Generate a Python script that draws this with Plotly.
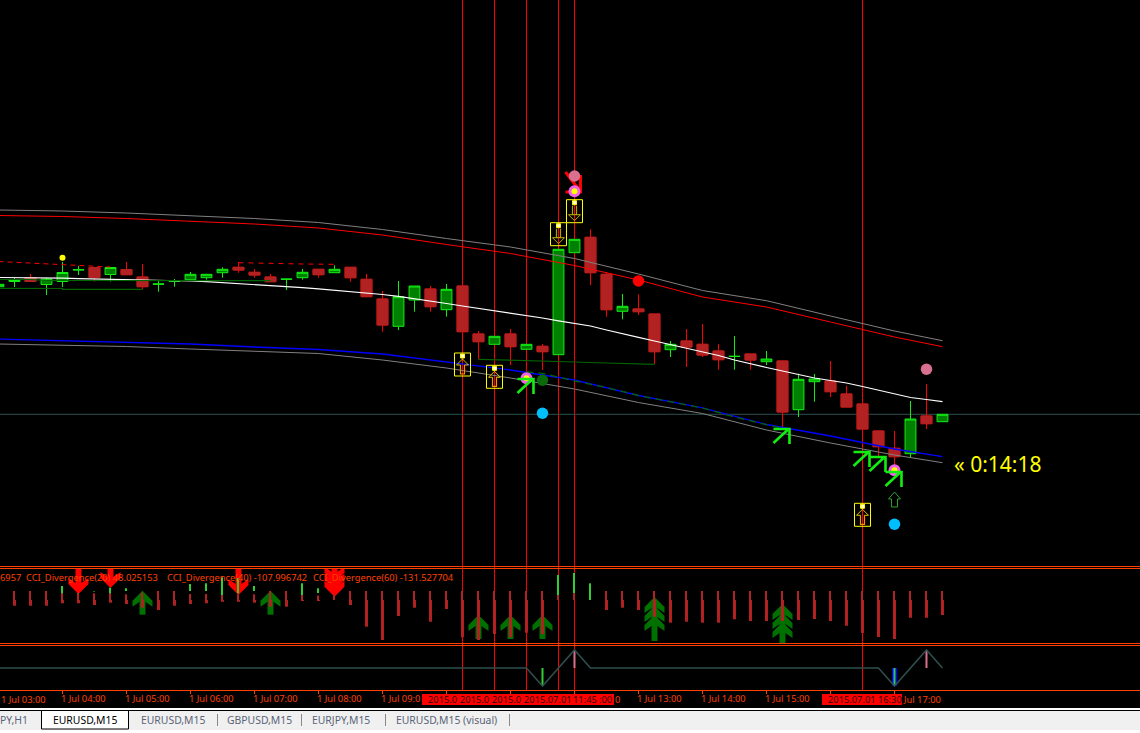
import numpy as np
import pandas as pd
import plotly.graph_objects as go

# ---------- data (price in points above an arbitrary base; bars are 15 minutes) ----------
DAY = "2015-07-01 "
bar_times = pd.date_range(DAY + "03:00", periods=60, freq="15min")

opens = [313.3,318.5,322.5,315.5,318.5,330,332.5,325.5,330.5,323,315.7,318.7,320.3,322.3,327.3,332.7,327.7,323,320.7,322.3,
         330.7,327.3,332.7,320.7,301,273.7,300,311,290.3,314,266,255.7,266,250.7,253.7,245.3,347.3,362.7,325.7,288.7,
         291,286,250.3,259,255.7,249,243.5,246,238.3,239,190.3,218.3,219,206,196,169,151.7,146.3,184,178.3]
highs = [315.7,322,326,322.5,338,334,332.5,332.5,338,336,319.3,321,328,325.7,332.7,338,331,326,321,331,
         330.7,334.7,332.7,326,309,319,314,314,316,314,269,263.7,271,255.7,256,350.7,360.7,370.7,328,306,
         305.7,286,259,271,276,256,264,246,249,239,226.3,226,239,214.3,196,169,169,199,216,185.7]
lows = [313.3,313,318.5,305,313,325,318.5,318.5,325.3,311,308.3,313.3,320.3,320.3,322.3,327.3,322.3,318.3,310,320.3,
        322.3,327.3,318.3,303.3,268.3,270,288.3,288.3,283.3,268.3,240.7,255.7,235,250.7,230,245.3,347.3,315,283.3,280.7,
        285,236,243,233,243,230.3,230.3,230.3,235,172,183,198.3,203,193,171,144,135,142.3,171,178.3]
closes = [315.7,320.5,318.5,321,327.5,330.3,322.5,332.5,325.3,313.3,316,319,325.7,325.7,330.7,330,325,318.3,320.9,327.7,
          325.3,330.7,322.3,303.3,275,303.3,314,293.3,310.7,268.3,258.3,263.7,253.3,255.7,248.3,350.7,360.7,327.3,290.3,293.7,
          288.3,248.3,255.7,253,245,240.3,243.7,240,241,188,220.7,221,208.3,193,171,153.3,143.3,181,176.3,185.7]

ma_mid = [322.5,322.5,322.3,322.1,321.8,321.4,321.1,320.8,320.6,320.4,320.1,319.7,319,318.3,317.4,316.5,315.5,314.5,313.5,312.4,
          311.2,309.9,308.6,307,305.5,303.6,301.4,299,296.5,294,291.7,289.2,287,284.7,282,279.2,276.5,274,270,266,
          262.7,259,255.5,252,248.7,244.5,240,236,232.5,229,225.5,222,219.5,217,213.5,210,206.5,202.5,200.5,198.3]

band_times = [DAY + s for s in ["03:00","04:00","05:00","06:00","07:00","08:00","09:00","10:00","11:00","12:00","13:00","14:00","15:00","16:00","17:00","17:45"]]
band_upper_gray = [390,389,387,384.5,381.5,377.5,370.5,361.5,353,341.5,326,309.5,299.3,284,269,259.3]
band_upper_red = [384.5,383.5,381.5,379,376,372,365,355.5,346.5,334.5,320,303,293,278,263,253.3]
band_lower_blue = [261,259.5,258,256,253,250.5,246,238,230,220,204.5,192.2,175.5,164,151,143.3]
band_lower_gray = [256,255,253.5,251,249,246.5,240,232,222,211,197.5,186.5,170,157,145,137.3]

res1_times = [DAY + s for s in ["03:00","03:30","04:00","04:30","04:45"]]
res1_vals = [338.5,337,335.5,333.5,333]
res2_times = [DAY + s for s in ["06:45","07:15","07:45","08:15"]]
res2_vals = [337.3,336.3,336,335.7]
sup_a_times = [DAY + s for s in ["03:00","03:30","03:45","07:15"]]
sup_a_vals = [320.5,320.5,319.5,319.3]
sup_b_times = [DAY + s for s in ["03:00","04:00","04:00","05:15"]]
sup_b_vals = [311.7,311.5,310.7,310.7]
sup_c_times = [DAY + s for s in ["10:30","11:15","11:45","12:30","13:00","13:15"]]
sup_c_vals = [240.7,239.7,238.5,237,235.7,235.7]
sup_d_times = [DAY + s for s in ["11:15","11:30","12:00","12:30","13:00","13:30","14:00","14:30","15:00","15:15"]]
sup_d_vals = [228,226.7,219,212.5,204.5,198,192,183,175.5,171.5]

vline_times = [DAY + s for s in ["10:15","10:45","11:15","11:45","12:00","16:30"]]

up_box_times = [DAY + s for s in ["10:15","10:45","16:30"]]
up_box_vals = [244,231.7,93.7]
dn_box_times = [DAY + s for s in ["11:45","12:00"]]
dn_box_vals = [374.3,397.3]

ne_times = [DAY + s for s in ["11:15","15:15","16:30","16:45","17:00"]]
ne_vals = [222,172,149,144,129]
se_time = DAY + "12:00"
se_val = 408
hollow_time = DAY + "17:00"
hollow_val = 108

yellow_dot_t = [DAY + "04:00"]; yellow_dot_v = [342.3]
pink_t = [DAY + "12:00", DAY + "17:30"]; pink_v = [424,230.7]
magenta_t = [DAY + "11:15", DAY + "12:00", DAY + "17:00"]; magenta_v = [221.7,408.7,129.7]
blue_t = [DAY + "11:30", DAY + "17:00"]; blue_v = [186.7,75.7]
dkgreen_t = [DAY + "11:30"]; dkgreen_v = [219.7]
red_t = [DAY + "13:00"]; red_v = [319]

hist_times = bar_times[1:]
fb_top = [9,9,9,6.7,6.7,6.7,6.7,5.7,7.3,9,9,6,6,5,5.7,5.7,9,9,5,4.3,6,9,9,
          9,9,9,9,9,9,9,9,9,9,9,5,6.7,0,
          9,9,9,9,9,9,9,9,9,9,9,9,9,9,9,9,9,9,9,9,9,9]
fb_bot = [-5.7,-5.7,-5.7,-3.3,-3.3,-5,-2.7,-4,-7.7,-10,-5.7,-4,-3.3,-1.7,-1.7,-2.7,-6.7,-6.7,-1,-1,0,-5,-26.7,
          -40,-16,-7.7,-21.7,-9,-37.3,-40,-34,-37.3,-32.7,-34,0,0,0,
          -10,-7.7,-10,-16.7,-22.7,-21.7,-22.7,-22.7,-19.3,-21,-21,-21,-20,-19,-21,-25.7,-33,-37,-39,-17.7,-17.7,-15]
gr_top = [0,0,0,14,7,9,12.3,11.7,0,0,0,16,16.7,22.7,22,14,0,0,16.7,11.7,4,0,0,
          0,0,0,0,0,0,0,0,0,0,0,25,27,16.7,
          0,0,0,0,0,0,0,0,0,0,0,0,0,0,0,0,0,0,0,0,0,0]
gr_bot = [0,0,0,5.7,6,8.5,5.7,9,0,0,0,9,9,5,6.7,9,0,0,5,7,0,0,0,
          0,0,0,0,0,0,0,0,0,0,0,5,6.7,0,
          0,0,0,0,0,0,0,0,0,0,0,0,0,0,0,0,0,0,0,0,0,0]

dn_arrow_times = [DAY + s for s in ["04:15","04:45","06:45","08:15"]]
dn_arrow_vals = [6,12,5,3.3]
dn_arrow_n = [1,1,1,3]
up_arrow_times = [DAY + s for s in ["05:15","07:15","10:30","11:00","11:30","13:15","15:15"]]
up_arrow_vals = [9.3,9.3,-15,-15,-15,3,-4]
up_arrow_n = [1,1,1,1,1,3,3]

sig_times = [DAY + s for s in ["03:00","11:15","11:30","11:45","12:00","12:15","16:45","17:00","17:15","17:30","17:45"]]
sig_vals = [0,0,-1,0,1,0,0,-1,0,1,0]
sig_lime_t = [DAY + "11:30", DAY + "17:00"]; sig_lime_v = [-1,-1]
sig_pink_t = [DAY + "12:00", DAY + "17:30"]; sig_pink_v = [1,1]
sig_blue_t = [DAY + "17:00"]; sig_blue_v = [-1]

tick_hours = ["04:00","05:00","06:00","07:00","08:00","09:00","10:00","11:00","12:00","13:00","14:00","15:00","16:00","17:00"]
# what each hour label shows once the red vertical-line tags have covered it
tick_shown = ["1 Jul 04:00","1 Jul 05:00","1 Jul 06:00","1 Jul 07:00","1 Jul 08:00","1 Jul 09:0","","","",
              "1 Jul 13:00","1 Jul 14:00","1 Jul 15:00","",""]

tab_labels = ["PY,H1","EURUSD,M15","EURUSD,M15","GBPUSD,M15","EURJPY,M15","EURUSD,M15 (visual)"]

# ---------- helpers ----------
W, H = 1140, 733
def px(x): return x / W
def py(y): return 1 - y / H
MS = 56250  # milliseconds per screen pixel (16 px = 15 min)

ORANGE = "#ff4000"
LIME = "#12ee12"
FB = "#b22222"
FONT = "Noto Sans"

o, h, l, c = map(np.array, (opens, highs, lows, closes))
bull = c >= o
bear = ~bull
t = np.array(bar_times.strftime("%Y-%m-%d %H:%M"))

fig = go.Figure()
# candles
fig.add_trace(go.Candlestick(x=t[bear], open=o[bear], high=h[bear], low=l[bear], close=c[bear],
    increasing=dict(line=dict(color="#ff0000", width=1), fillcolor=FB),
    decreasing=dict(line=dict(color="#ff0000", width=1), fillcolor=FB), whiskerwidth=0))
fig.add_trace(go.Candlestick(x=t[bear], open=o[bear], high=o[bear], low=c[bear], close=c[bear],
    increasing=dict(line=dict(color=FB, width=1), fillcolor=FB),
    decreasing=dict(line=dict(color=FB, width=1), fillcolor=FB), whiskerwidth=0))
fig.add_trace(go.Candlestick(x=t[bull], open=o[bull], high=h[bull], low=l[bull], close=c[bull],
    increasing=dict(line=dict(color=LIME, width=1), fillcolor="#008000"),
    decreasing=dict(line=dict(color=LIME, width=1), fillcolor="#008000"), whiskerwidth=0))

def line(x, y, color, width=1, dash=None, yaxis="y"):
    fig.add_trace(go.Scatter(x=x, y=y, mode="lines", yaxis=yaxis,
                             line=dict(color=color, width=width, dash=dash)))

line(band_times, band_upper_gray, "#808080")
line(band_times, band_upper_red, "#ff0000")
line(band_times, band_lower_gray, "#808080")
line(band_times, band_lower_blue, "#0000ff", 1.3)
line(t, ma_mid, "#ffffff", 1.2)
line(sup_a_times, sup_a_vals, "#006400", 1.2)
line(sup_b_times, sup_b_vals, "#006400", 1.2)
line(sup_c_times, sup_c_vals, "#006400", 1.2)
line(sup_d_times, sup_d_vals, "#006400", 1.3, dash="7px,5px")
line(res1_times, res1_vals, "#ff0000", 1, dash="5px,4px")
line(res2_times, res2_vals, "#ff0000", 1, dash="5px,5px")

def dots(x, y, color, size, symbol="circle", border=None):
    fig.add_trace(go.Scatter(x=x, y=y, mode="markers",
        marker=dict(color=color, size=size, symbol=symbol,
                    line=dict(color=border or color, width=1 if border else 0))))

dots(yellow_dot_t, yellow_dot_v, "#ffff00", 6)
dots(pink_t, pink_v, "#d9708f", 11.5)
dots(magenta_t, magenta_v, "#f060e8", 12)
dots(magenta_t, magenta_v, "#ffff00", 6)
dots(blue_t, blue_v, "#00bfff", 11.5)
dots(dkgreen_t, dkgreen_v, "#0b6b0b", 11.5)
dots(red_t, red_v, "#ff0000", 11.5)
dots(up_box_times + dn_box_times, up_box_vals + dn_box_vals, "#ffffd0", 4, "square", "#ffff00")

# indicator histogram
def hbar(x, top, bottom, color, w_px, off_px):
    top, bottom = np.array(top, float), np.array(bottom, float)
    fig.add_trace(go.Bar(x=x, y=top - bottom, base=bottom, yaxis="y2", width=w_px * MS, offset=off_px * MS,
                         marker=dict(color=color, line=dict(width=0))))

hbar(hist_times, gr_top, gr_bot, "#32cd32", 2, -1.5)
hbar(hist_times, fb_top, fb_bot, FB, 2, -1.5)
hbar(hist_times, np.zeros(len(fb_bot)), fb_bot, FB, 1, 0.5)

# signal panel
line(sig_times, sig_vals, "#2f4f4f", 1.5, yaxis="y3")
def sbar(x, y, color, w_px):
    fig.add_trace(go.Bar(x=x, y=y, yaxis="y3", width=w_px * MS, offset=-w_px * MS / 2,
                         marker=dict(color=color, line=dict(width=0))))
sbar(sig_blue_t, sig_blue_v, "#0000ff", 5)
sbar(sig_lime_t, sig_lime_v, "#32cd32", 2)
sbar(sig_pink_t, sig_pink_v, "#d9708f", 2)

# ---------- shapes ----------
shapes = []
def pix(time, val, path, color, width=1, fill="rgba(0,0,0,0)", yref="y", layer="above"):
    shapes.append(dict(type="path", xref="x", yref=yref, xsizemode="pixel", ysizemode="pixel",
                       xanchor=time, yanchor=val, path=path, layer=layer,
                       line=dict(color=color, width=width), fillcolor=fill))

def tree(tm, v, sign, n, step, stem, color, yref):
    """Stacked chevrons (tip at the anchor) plus a stem; each is its own polygon."""
    for k in range(n):
        s = -k * step
        pix(tm, v, (f"M0,{sign*s} L10,{sign*(s-10)} L10,{sign*(s-16)} L0,{sign*(s-9)} "
                    f"L-10,{sign*(s-16)} L-10,{sign*(s-10)} Z"), color, 0, color, yref, "below")
    pix(tm, v, f"M-3,{sign*-8} L3,{sign*-8} L3,{sign*-stem} L-3,{sign*-stem} Z", color, 0, color, yref, "below")

for tm, v, n in zip(dn_arrow_times, dn_arrow_vals, dn_arrow_n):
    tree(tm, v, -1, n, 7, 30, "#ff0000", "y2")
for tm, v, n in zip(up_arrow_times, up_arrow_vals, up_arrow_n):
    tree(tm, v, 1, n, 9, 24 if n == 1 else 44, "#007000", "y2")

for tm in vline_times:
    shapes.append(dict(type="line", xref="x", yref="paper", x0=tm, x1=tm, y0=py(690), y1=1,
                       line=dict(color="#ff0000", width=1), layer="below"))
shapes.append(dict(type="line", xref="paper", yref="y", x0=0, x1=1, y0=closes[-1], y1=closes[-1],
                   line=dict(color="#2f4f4f", width=1), layer="below"))

pix(se_time, se_val, "M-9,20 L4,3 M-9,0 L6,0 L6,17", "#ff0000", 3, layer="below")
for tm, v in zip(ne_times, ne_vals):
    pix(tm, v, "M-9,-15 L5,-2 M-9,-1 L7,-1 L7,-16", LIME, 2.6)
pix(hollow_time, hollow_val, "M0,0 L6,-7 L3,-7 L3,-15 L-3,-15 L-3,-7 L-6,-7 Z", "#2ea02e", 1)

for tm, v in zip(up_box_times, up_box_vals):
    pix(tm, v, "M-8,3 L8,3 L8,-20 L-8,-20 Z", "#ffff00", 1)
    pix(tm, v, "M-2,-9 L-2,-18 L2,-18 L2,-9", "#ff9000", 1.2)
    pix(tm, v, "M-2,-9 L-6,-9 L0,-3 L6,-9 L2,-9", "#e0c000", 1)
for tm, v in zip(dn_box_times, dn_box_vals):
    pix(tm, v, "M-8,3 L8,3 L8,-20 L-8,-20 Z", "#ffff00", 1)
    pix(tm, v, "M-2,-3 L-2,-12 L2,-12 L2,-3", "#b0a000", 1.2)
    pix(tm, v, "M-2,-12 L-6,-12 L0,-18 L6,-12 L2,-12", "#c0b000", 1)

def hrule(y, width=1, color=ORANGE):
    shapes.append(dict(type="line", xref="paper", yref="paper", x0=0, x1=1, y0=py(y), y1=py(y),
                       line=dict(color=color, width=width), layer="above"))
for y_ in (566.5, 568.5, 643.5, 645.5, 690.5):
    hrule(y_)

def rect(x0, y0, x1, y1, fill, edge=None):
    shapes.append(dict(type="rect", xref="paper", yref="paper", x0=px(x0), x1=px(x1), y0=py(y1), y1=py(y0),
                       fillcolor=fill, line=dict(color=edge or fill, width=1 if edge else 0), layer="above"))
rect(422, 694, 614, 705, "#ff0000")
rect(822, 694, 902, 705, "#ff0000")
rect(0, 708, W, 733, "#ffffff")
rect(0, 711, W, 730, "#f0f0f0")
hrule(710.5, 1, "#000000")
rect(41.5, 710.5, 128.5, 729, "#ffffff", "#000000")
for sx in (217, 301, 385, 509):
    rect(sx, 714, sx + 1, 726, "#8a8a8a")

# ---------- text ----------
ann = []
def text(x, y, s, color, size=9.3, anchor="left"):
    ann.append(dict(xref="paper", yref="paper", x=px(x), y=py(y), text=s, showarrow=False, xanchor=anchor,
                    yanchor="middle", font=dict(family=FONT, size=size, color=color), borderpad=0))

text(-1, 577, "6957", ORANGE)
text(25, 577, "CCI_Divergence(20) 48.025153", ORANGE)
text(166, 577, "CCI_Divergence(40) -107.996742", ORANGE)
text(312, 577, "CCI_Divergence(60) -131.527704", ORANGE)
text(0, 699.5, "1 Jul 03:00", ORANGE)
text(614, 699.5, "0", ORANGE)
text(902, 699.5, "Jul 17:00", ORANGE)
text(953, 464, "« 0:14:18", "#ffff00", 21)
for xpos, s in zip((427, 459, 491, 523, 572, 598, 827),
                   ("2015.0", "2015.0", "2015.0", "2015.07.01", "11:45", ":00", "2015.07.01 16:30")):
    text(xpos, 699.5, s, "#300000", 9.3)
for xpos, s, col in zip((-1, 52, 140, 226, 311, 395), tab_labels,
                        ("#5a6478", "#000000", "#5a6478", "#5a6478", "#5a6478", "#5a6478")):
    text(xpos, 719.5, s, col, 10.4)

fig.update_layout(
    width=W, height=H, margin=dict(l=0, r=0, t=0, b=0), autosize=False,
    paper_bgcolor="#000000", plot_bgcolor="#000000", showlegend=False,
    boxmode="overlay", boxgap=0.03, barmode="overlay", hovermode=False,
    shapes=shapes, annotations=ann,
    xaxis=dict(type="date", range=["2015-07-01 03:01:25", "2015-07-01 20:50:10"], domain=[0, 1], anchor="y3",
               rangeslider=dict(visible=False), showgrid=False, zeroline=False, showline=False,
               ticks="outside", ticklen=3, tickcolor=ORANGE, tickwidth=1,
               tickvals=[DAY + s for s in tick_hours], ticktext=tick_shown,
               ticklabelposition="outside right", ticklabelshift=-2, tickangle=0,
               tickfont=dict(family=FONT, size=9.3, color=ORANGE)),
    yaxis=dict(domain=[py(566), 1], range=[34, 600], visible=False),
    yaxis2=dict(domain=[py(643), py(569)], range=[-43, 31], visible=False),
    yaxis3=dict(domain=[py(690), py(646)], range=[-1.222, 1.222], visible=False),
)

fig.write_html("out.html", config=dict(displayModeBar=False, staticPlot=True),
               post_script="document.body.style.margin='0';document.body.style.overflow='hidden';")
